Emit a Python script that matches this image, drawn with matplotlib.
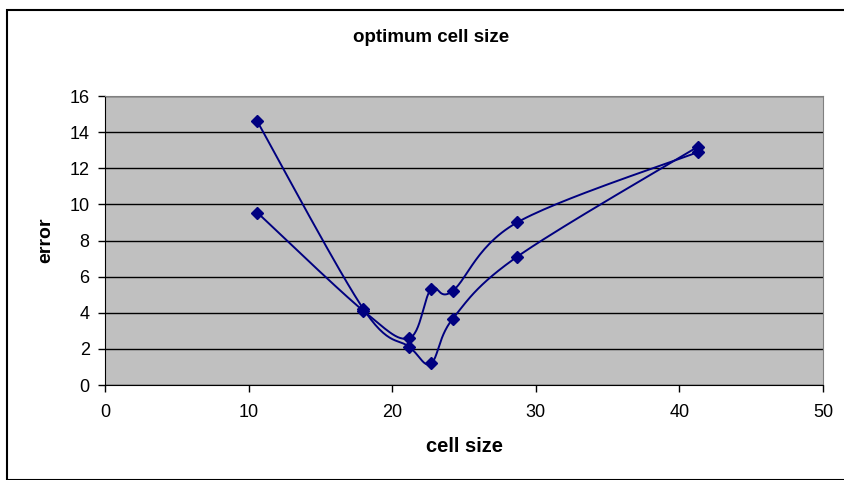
import numpy as np
import matplotlib.pyplot as plt
from matplotlib.patches import Rectangle

plt.rcParams['font.family'] = ['Liberation Sans', 'DejaVu Sans']

cell_size = [10.6, 18.0, 21.2, 22.7, 24.2, 28.7, 41.3]
error_a = [14.6, 4.2, 2.1, 1.2, 3.65, 7.1, 13.2]
error_b = [9.55, 4.1, 2.6, 5.3, 5.2, 9.0, 12.9]

line_color = '#000080'


def smooth(ax, xs, ys, n=30):
    # Catmull-Rom style bezier through the points, done in pixel space
    pts = ax.transData.transform(np.column_stack([xs, ys]))
    pts = np.vstack([pts[0], pts, pts[-1]])
    out = []
    for i in range(1, len(pts) - 2):
        p0, p1, p2, p3 = pts[i - 1], pts[i], pts[i + 1], pts[i + 2]
        c1 = p1 + (p2 - p0) / 6.0
        c2 = p2 - (p3 - p1) / 6.0
        t = np.linspace(0, 1, n)[:, None]
        seg = ((1 - t) ** 3 * p1 + 3 * (1 - t) ** 2 * t * c1
               + 3 * (1 - t) * t ** 2 * c2 + t ** 3 * p2)
        out.append(seg)
    out = np.vstack(out)
    return ax.transData.inverted().transform(out).T


fig = plt.figure(figsize=(8.44, 4.80), dpi=100)
fig.patches.append(Rectangle((7 / 844, 0), 1.0, 1 - 10 / 480, transform=fig.transFigure,
                             fill=False, edgecolor='black', linewidth=1.5))

ax = fig.add_axes([105 / 844, 1 - 385 / 480, 718 / 844, 289 / 480])
ax.set_facecolor('#c0c0c0')
ax.set_xlim(0, 50)
ax.set_ylim(0, 16)
ax.set_xticks(range(0, 51, 10))
ax.set_yticks(range(0, 17, 2))
ax.grid(axis='y', color='black', linewidth=1.0)
ax.set_axisbelow(True)

for s in ['top', 'right']:
    ax.spines[s].set_color('#808080')
for s in ['left', 'bottom']:
    ax.spines[s].set_color('black')
ax.tick_params(direction='out', length=5, width=1, labelsize=13, color='black')
ax.tick_params(axis='x', pad=9)
ax.tick_params(axis='y', pad=6)

for ys in (error_a, error_b):
    sx, sy = smooth(ax, cell_size, ys)
    ax.plot(sx, sy, color=line_color, linewidth=1.4, clip_on=False)
    ax.plot(cell_size, ys, linestyle='none', marker='D', markersize=6.5,
            color=line_color, clip_on=False)

fig.text(431 / 844, 1 - 37 / 480, 'optimum cell size', ha='center', va='center',
         fontsize=13.5, fontweight='bold')
ax.set_xlabel('cell size', fontsize=14.5, fontweight='bold', labelpad=11)
ax.set_ylabel('error', fontsize=14, fontweight='bold', labelpad=11)

fig.savefig('out.png', dpi=100)
